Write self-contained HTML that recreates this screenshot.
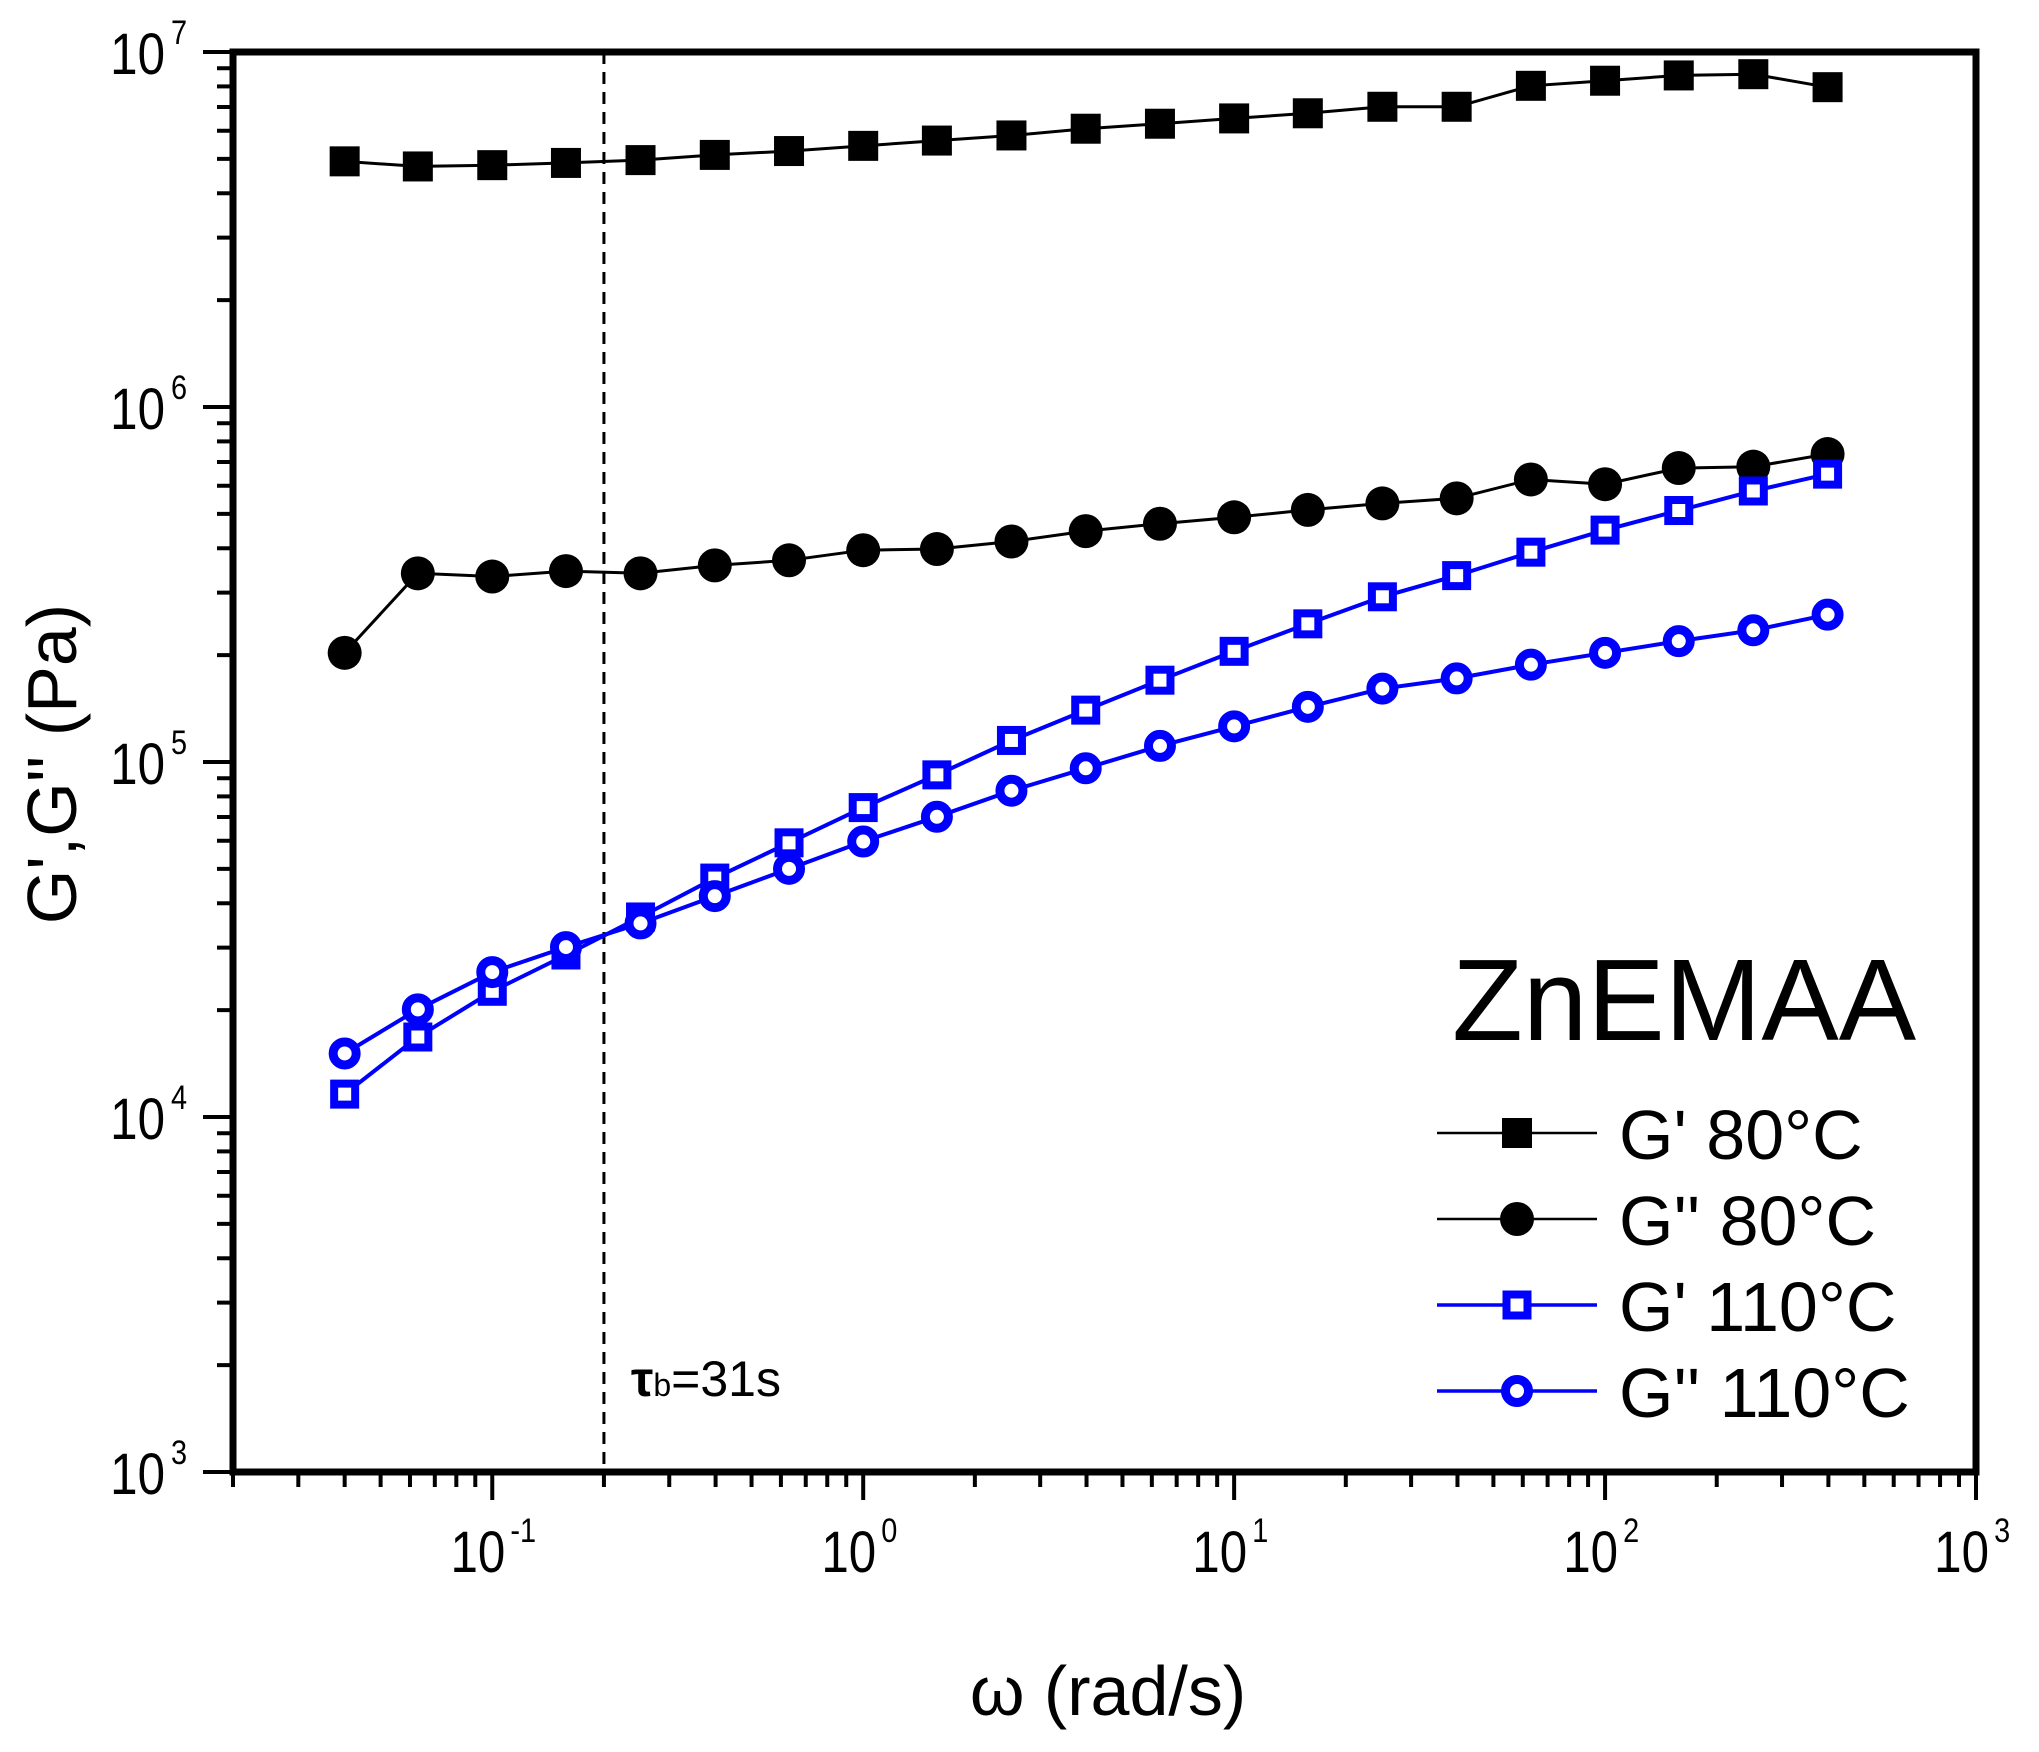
<!DOCTYPE html>
<html><head><meta charset="utf-8"><style>
html,body{margin:0;padding:0;background:#fff}
svg{display:block}
text{font-family:"Liberation Sans",Arial,sans-serif}
</style></head><body>
<svg id="chart" width="2039" height="1752" viewBox="0 0 2039 1752" xmlns="http://www.w3.org/2000/svg">
<g id="plot"></g>
</svg>
<script>
const omega = [0.04,0.063,0.1,0.158,0.251,0.398,0.631,1,1.58,2.51,3.98,6.31,10,15.8,25.1,39.8,63.1,100,158,251,398];
const gp80 = [4.92e6,4.76e6,4.80e6,4.87e6,4.96e6,5.13e6,5.26e6,5.44e6,5.63e6,5.82e6,6.08e6,6.28e6,6.50e6,6.72e6,7.01e6,7.01e6,8.03e6,8.30e6,8.59e6,8.66e6,7.96e6];
const gpp80 = [2.03e5,3.40e5,3.33e5,3.45e5,3.40e5,3.58e5,3.70e5,3.95e5,3.98e5,4.18e5,4.47e5,4.69e5,4.89e5,5.13e5,5.35e5,5.53e5,6.25e5,6.06e5,6.73e5,6.79e5,7.37e5];
const gp110 = [1.16e4,1.68e4,2.26e4,2.86e4,3.66e4,4.71e4,5.92e4,7.44e4,9.2e4,1.15e5,1.40e5,1.70e5,2.05e5,2.45e5,2.92e5,3.35e5,3.90e5,4.50e5,5.11e5,5.80e5,6.47e5];
const gpp110 = [1.51e4,2.01e4,2.56e4,3.01e4,3.51e4,4.19e4,5.00e4,5.97e4,7.01e4,8.30e4,9.6e4,1.11e5,1.26e5,1.43e5,1.61e5,1.72e5,1.88e5,2.03e5,2.19e5,2.35e5,2.60e5];
const xTickExps = [-1,0,1,2,3];
const yTickExps = [3,4,5,6,7];
const tauOmega = [0.2];

const NS="http://www.w3.org/2000/svg";
const L=233,R=1976,T=52,B=1472;
const xmin=Math.log10(0.02),xmax=3,ymin=3,ymax=7;
function X(v){return L+(Math.log10(v)-xmin)/(xmax-xmin)*(R-L);}
function Y(v){return B-(Math.log10(v)-ymin)/(ymax-ymin)*(B-T);}
const g=document.getElementById('plot');
function el(tag,attrs,parent){const e=document.createElementNS(NS,tag);for(const k in attrs)e.setAttribute(k,attrs[k]);(parent||g).appendChild(e);return e;}

// y ticks
for(let e=3;e<=7;e++){
  const t=el('line',{x1:L-30,x2:L,y1:Y(10**e),y2:Y(10**e),stroke:'#000','stroke-width':4});
  
  
  if(e<7)for(let m=2;m<=9;m++){
    const mt=el('line',{x1:L-16,x2:L,y1:Y(m*10**e),y2:Y(m*10**e),stroke:'#000','stroke-width':4});
    
    
  }
}
yTickExps.forEach(e=>{
  const y=Y(10**e)+22;
  const lg=el('g',{transform:'translate(165,'+y+') scale(0.85,1)'});
  
  
  const t=el('text',{x:0,y:0,'font-size':58,'text-anchor':'end'},lg);
  t.textContent='10';
  const s=el('text',{x:7,y:-30,'font-size':34},lg);
  s.textContent=String(e);
});
// x ticks
for(let e=-2;e<=3;e++){
  if(e>=-1){
    const t=el('line',{x1:X(10**e),x2:X(10**e),y1:B,y2:B+28,stroke:'#000','stroke-width':4});
    
    
  }
  if(e<3)for(let m=2;m<=9;m++){
    const v=m*10**e; if(v<0.02)continue;
    const mt=el('line',{x1:X(v),x2:X(v),y1:B,y2:B+15,stroke:'#000','stroke-width':4});
    
    
  }
}
xTickExps.forEach(e=>{
  const x=X(10**e);
  const lg=el('g',{transform:'translate('+(x+13)+',1572) scale(0.85,1)'});
  
  
  const t=el('text',{x:0,y:0,'font-size':58,'text-anchor':'end'},lg);
  t.textContent='10';
  const s=el('text',{x:6,y:-30,'font-size':34},lg);
  s.textContent=e<0?'-'+Math.abs(e):String(e);
});
// frame
const fr=el('rect',{x:L,y:T,width:R-L,height:B-T,fill:'none',stroke:'#000','stroke-width':7});


// dashed line
tauOmega.forEach(v=>{
  const d=el('line',{x1:X(v),x2:X(v),y1:T,y2:B,stroke:'#000','stroke-width':3,'stroke-dasharray':'12,8'});
  
  
});
const tl=el('text',{x:631,y:1396,'font-size':50});
tl.innerHTML='<tspan font-weight="bold">τ</tspan><tspan font-size="32">b</tspan>=31s';



function marker(parent,type,color,cx,cy){
  let m;
  if(type==='fsq') m=el('rect',{x:cx-15,y:cy-15,width:30,height:30,fill:color},parent);
  else if(type==='fci') m=el('circle',{cx:cx,cy:cy,r:17,fill:color},parent);
  else if(type==='osq') m=el('rect',{x:cx-10.5,y:cy-10.5,width:21,height:21,fill:'#fff',stroke:color,'stroke-width':8},parent);
  else m=el('circle',{cx:cx,cy:cy,r:11.5,fill:'#fff',stroke:color,'stroke-width':9},parent);
  return m;
}
const series=[
 {name:'series-gp-80',vals:gp80,color:'#000',type:'fsq',lw:3},
 {name:'series-gpp-80',vals:gpp80,color:'#000',type:'fci',lw:3},
 {name:'series-gp-110',vals:gp110,color:'#0000ff',type:'osq',lw:4},
 {name:'series-gpp-110',vals:gpp110,color:'#0000ff',type:'oci',lw:4}
];
series.forEach(s=>{
  const sg=el('g',{});
  
  
  const pts=omega.map((w,i)=>X(w).toFixed(1)+','+Y(s.vals[i]).toFixed(1)).join(' ');
  const pl=el('polyline',{points:pts,fill:'none',stroke:s.color,'stroke-width':s.lw},sg);
  
  
  omega.forEach((w,i)=>{
    const m=marker(sg,s.type,s.color,X(w),Y(s.vals[i]));
    
    
  });
});
// title
const zt=el('text',{x:1452,y:1040,'font-size':116});
zt.textContent='ZnEMAA';


// legend
const labels=["G' 80°C","G'' 80°C","G' 110°C","G'' 110°C"];
const rows=[1133,1219,1305,1391];
series.forEach((s,i)=>{
  const lg=el('g',{});
  
  
  el('line',{x1:1437,x2:1597,y1:rows[i],y2:rows[i],stroke:s.color,'stroke-width':s.lw-0.5},lg);
  marker(lg,s.type,s.color,1517,rows[i]);
  const t=el('text',{x:1619,y:rows[i]+26,'font-size':70},lg);
  t.textContent=labels[i];
});
// axis titles
const xt=el('text',{x:1108,y:1715,'font-size':70,'text-anchor':'middle'});
xt.textContent='ω (rad/s)';


const yt=el('text',{x:0,y:0,'font-size':70,'text-anchor':'middle',transform:'translate(76,764) rotate(-90)'});
yt.textContent="G',G'' (Pa)";


</script>
</body></html>
